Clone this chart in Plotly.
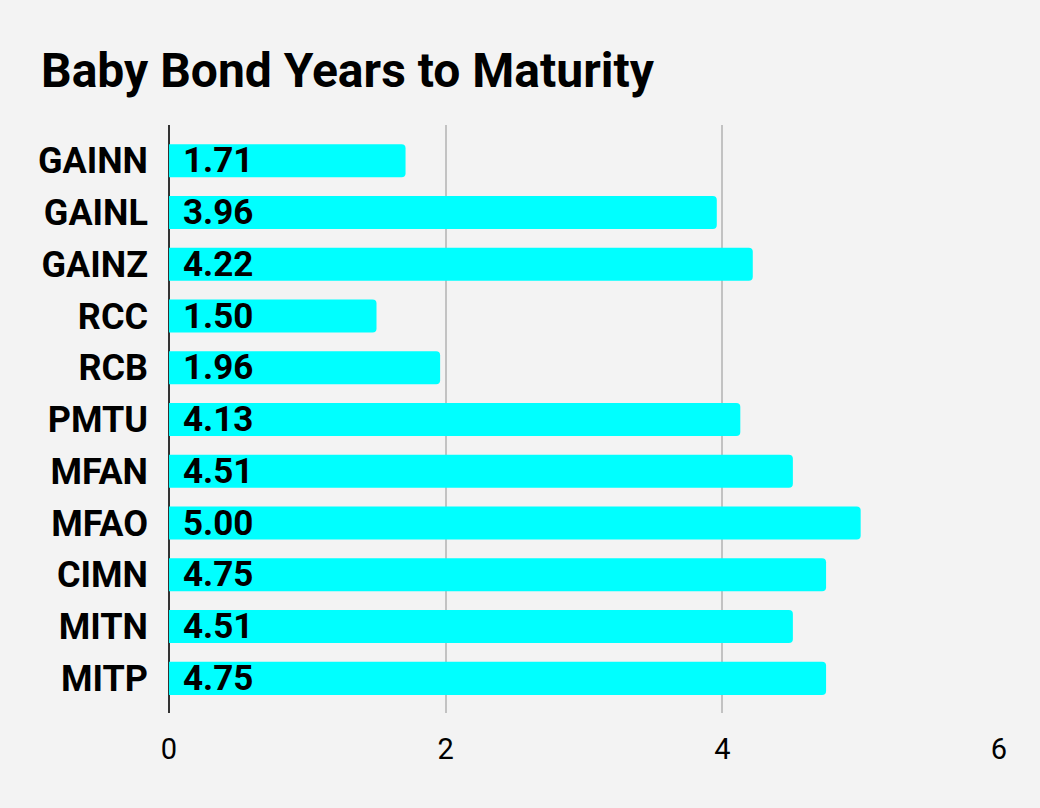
import plotly.graph_objects as go

tickers = ["GAINN", "GAINL", "GAINZ", "RCC", "RCB", "PMTU", "MFAN", "MFAO", "CIMN", "MITN", "MITP"]
years = [1.71, 3.96, 4.22, 1.50, 1.96, 4.13, 4.51, 5.00, 4.75, 4.51, 4.75]
x_ticks = [0, 2, 4, 6]
title_text = "Baby Bond Years to Maturity"

fig = go.Figure()
fig.add_trace(go.Bar(
    x=years, y=tickers, orientation="h",
    marker=dict(color="#00ffff", line=dict(width=0)),
    hoverinfo="x+y",
))

for t, v in zip(tickers, years):
    fig.add_annotation(x=0, y=t, xref="x", yref="y", text=f"<b>{v:.2f}</b>",
                       showarrow=False, xanchor="left", yanchor="middle", xshift=12,
                       font=dict(family="Roboto", size=35, color="#000000"))

fig.update_layout(
    width=1040, height=808,
    paper_bgcolor="#f3f3f3", plot_bgcolor="#f3f3f3",
    margin=dict(l=169, r=41, t=125, b=95),
    bargap=0.36,
    barcornerradius=4,
    showlegend=False,
    title=dict(text=f"<b>{title_text}</b>", x=41/1040, xanchor="left",
               y=1 - 70/808, yanchor="middle",
               font=dict(family="Roboto", size=48, color="#000000")),
    xaxis=dict(range=[0, 6], tickvals=x_ticks, showgrid=True, gridcolor="#c2c2c2", gridwidth=2,
               zeroline=True, zerolinecolor="#333333", zerolinewidth=2,
               showline=False, ticks="", ticklabelstandoff=16,
               tickfont=dict(family="Roboto", size=29, color="#000000")),
    yaxis=dict(categoryorder="array", categoryarray=tickers, range=[10.67, -0.69],
               showgrid=False, zeroline=False, showline=False, ticks="", ticklabelstandoff=20,
               tickfont=dict(family="Roboto", size=36, color="#000000", weight="bold")),
)

fig.write_html("out.html", config={"displayModeBar": False},
               post_script="document.body.style.margin='0';document.body.style.background='#f3f3f3';")
